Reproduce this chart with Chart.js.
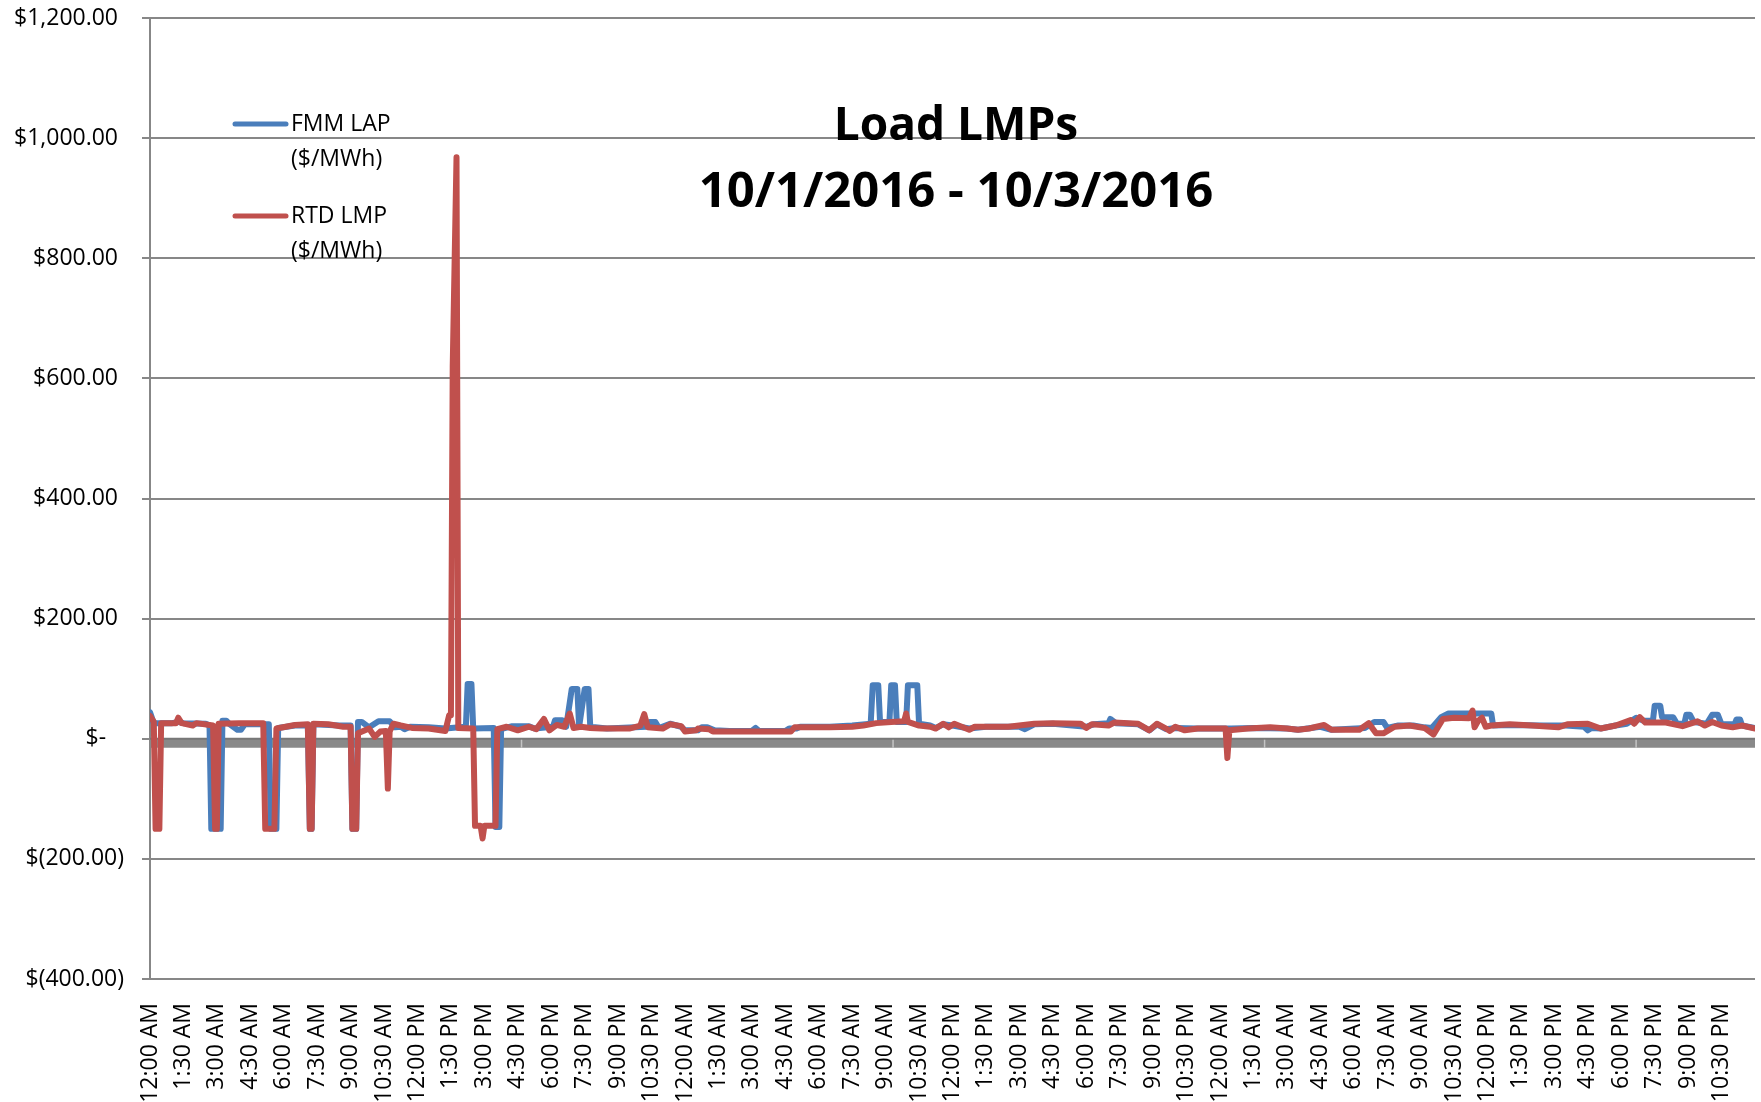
<!DOCTYPE html>
<html>
<head>
<meta charset="utf-8">
<title>Load LMPs</title>
<script src="https://cdn.jsdelivr.net/npm/chart.js@4.4.0/dist/chart.umd.min.js"></script>
<style>
  html, body { margin: 0; padding: 0; background: #fff; }
  #wrap { width: 1761px; height: 1102px; }
</style>
</head>
<body>
<div id="wrap"><canvas id="lmpChart" width="1761" height="1102"></canvas></div>
<script>
// 時刻ラベル（1.5時間ごと、3日分）
const xTickLabels = [
  "12:00 AM", "1:30 AM", "3:00 AM", "4:30 AM", "6:00 AM", "7:30 AM", "9:00 AM", "10:30 AM",
  "12:00 PM", "1:30 PM", "3:00 PM", "4:30 PM", "6:00 PM", "7:30 PM", "9:00 PM", "10:30 PM",
  "12:00 AM", "1:30 AM", "3:00 AM", "4:30 AM", "6:00 AM", "7:30 AM", "9:00 AM", "10:30 AM",
  "12:00 PM", "1:30 PM", "3:00 PM", "4:30 PM", "6:00 PM", "7:30 PM", "9:00 PM", "10:30 PM",
  "12:00 AM", "1:30 AM", "3:00 AM", "4:30 AM", "6:00 AM", "7:30 AM", "9:00 AM", "10:30 AM",
  "12:00 PM", "1:30 PM", "3:00 PM", "4:30 PM", "6:00 PM", "7:30 PM", "9:00 PM", "10:30 PM"
];
const yTickValues = [1200, 1000, 800, 600, 400, 200, 0, -200, -400];
const yTickLabels = ["$1,200.00 ", "$1,000.00 ", "$800.00 ", "$600.00 ", "$400.00 ", "$200.00 ", "$-   ", "$(200.00)", "$(400.00)"];

// FMM LAP ($/MWh) : 経過時間(h) と価格
const fmmHours = [
  0.00, 0.17, 1.00, 1.25, 1.50, 2.50, 2.67, 2.75, 3.17, 3.25, 3.42, 3.58, 3.92, 4.08, 4.25, 5.33,
  5.42, 5.67, 5.75, 6.50, 7.08, 7.17, 7.25, 7.33, 8.50, 9.00, 9.08, 9.25, 9.33, 9.50, 9.83, 10.25,
  10.75, 11.00, 11.25, 11.42, 11.67, 12.50, 13.25, 13.50, 14.17, 14.25, 14.42, 14.50, 15.42, 15.50,
  15.67, 15.75, 16.25, 17.00, 17.25, 18.08, 18.17, 18.50, 18.67, 18.92, 19.17, 19.25, 19.50, 19.67,
  19.75, 20.50, 22.25, 22.42, 22.67, 22.83, 23.33, 23.83, 24.00, 24.58, 24.75, 25.00, 25.33, 26.00,
  27.00, 27.17, 27.33, 28.50, 28.67, 29.00, 29.17, 30.50, 31.50, 32.33, 32.42, 32.67, 32.75, 33.17,
  33.25, 33.42, 33.50, 33.92, 34.00, 34.42, 34.50, 35.00, 35.25, 35.58, 36.00, 36.75, 37.50, 39.00,
  39.25, 39.67, 40.50, 42.00, 42.33, 43.00, 43.08, 43.33, 44.33, 44.83, 45.17, 45.58, 46.00, 47.00,
  48.50, 49.50, 51.00, 51.50, 52.50, 53.00, 54.50, 54.92, 55.33, 55.50, 56.00, 56.67, 57.17, 57.50,
  57.92, 58.25, 60.17, 60.25, 61.00, 62.50, 63.50, 64.33, 64.50, 64.67, 65.08, 65.75, 66.25, 66.67,
  67.00, 67.42, 67.50, 67.75, 67.83, 68.33, 68.50, 68.83, 68.92, 69.08, 69.25, 69.83, 70.08, 70.33,
  70.50, 71.08, 71.17, 71.33, 71.42, 72.00
];
const fmmValues = [
  44, 26, 26, 28, 26, 25, 22, -150, -150, 30, 30, 24, 15, 15, 24, 24,
  -150, -150, 18, 22, 22, -150, -150, 24, 22, 22, -150, -150, 28, 28, 19, 29,
  29, 19, 20, 16, 20, 19, 17, 18, 20, 91, 91, 17, 18, -147,
  -147, 16, 21, 21, 17, 20, 31, 31, 20, 83, 83, 20, 83, 83,
  20, 17, 20, 28, 28, 18, 25, 20, 14, 14, 19, 19, 14, 13,
  13, 18, 13, 13, 17, 17, 20, 20, 22, 25, 89, 89, 28, 28,
  89, 89, 28, 28, 89, 89, 25, 22, 18, 24, 22, 17, 20, 20,
  16, 24, 25, 20, 24, 26, 33, 26, 24, 14, 24, 16, 18, 17,
  17, 18, 17, 15, 20, 15, 18, 28, 28, 18, 22, 22, 19, 18,
  36, 42, 42, 22, 23, 22, 22, 20, 14, 18, 17, 22, 25, 35,
  30, 30, 55, 55, 36, 36, 25, 25, 40, 40, 28, 25, 40, 40,
  24, 24, 32, 32, 22, 18
];

// RTD LMP ($/MWh)
const rtdHours = [
  0.00, 0.17, 0.25, 0.42, 0.50, 1.17, 1.27, 1.42, 1.92, 2.08, 2.83, 2.92, 3.00, 3.08, 4.00, 5.08,
  5.17, 5.58, 5.67, 6.50, 7.08, 7.17, 7.25, 7.33, 8.00, 8.67, 9.00, 9.08, 9.25, 9.33, 9.83, 10.08,
  10.33, 10.58, 10.67, 10.75, 10.92, 11.25, 11.75, 12.50, 13.25, 13.42, 13.50, 13.58, 13.75, 13.83,
  14.50, 14.58, 14.83, 14.92, 15.00, 15.50, 15.58, 16.00, 16.50, 17.00, 17.33, 17.67, 17.92, 18.25,
  18.58, 18.83, 19.00, 19.33, 19.75, 20.25, 21.50, 22.00, 22.17, 22.33, 23.00, 23.33, 23.83, 24.00,
  24.50, 24.58, 25.08, 25.25, 26.00, 28.75, 28.92, 30.50, 31.50, 32.00, 32.58, 33.25, 33.83, 33.92,
  34.00, 34.50, 35.00, 35.25, 35.58, 35.83, 36.08, 36.75, 37.00, 38.50, 39.67, 40.50, 41.75, 42.00,
  42.25, 43.00, 43.25, 44.33, 44.83, 45.17, 45.58, 45.75, 46.00, 46.42, 47.00, 48.25, 48.33, 48.42,
  49.25, 50.25, 51.00, 51.50, 52.00, 52.67, 53.00, 54.25, 54.67, 55.00, 55.33, 55.83, 56.50, 57.17,
  57.58, 58.00, 58.50, 59.17, 59.33, 59.42, 59.58, 59.75, 59.92, 60.17, 61.00, 62.00, 63.17, 63.58,
  64.50, 65.08, 65.75, 66.42, 66.58, 66.83, 67.08, 68.00, 68.75, 69.42, 69.75, 70.08, 70.50, 71.00,
  71.42, 72.00
];
const rtdValues = [
  38, 28, -150, -150, 26, 26, 35, 26, 22, 26, 22, -150, -150, 25, 26, 26,
  -150, -150, 17, 23, 24, -150, -150, 25, 24, 20, 20, -150, -150, 9, 17, 3,
  12, 13, -83, 12, 25, 22, 18, 17, 13, 39, 39, 620, 968, 18,
  17, -145, -145, -166, -145, -145, 16, 20, 14, 20, 16, 33, 14, 23,
  20, 42, 18, 20, 18, 17, 17, 22, 41, 19, 17, 24, 21, 12,
  14, 17, 16, 12, 12, 12, 19, 19, 20, 22, 26, 28, 29, 42,
  28, 22, 20, 17, 25, 19, 25, 15, 20, 20, 25, 26, 25, 18,
  24, 22, 27, 25, 14, 25, 17, 13, 20, 14, 17, 17, -32, 14,
  17, 19, 17, 15, 17, 23, 15, 15, 26, 9, 9, 20, 22, 18,
  7, 33, 35, 34, 47, 19, 30, 35, 20, 22, 24, 22, 19, 24,
  25, 17, 22, 31, 25, 36, 27, 27, 21, 29, 22, 28, 22, 19,
  22, 17
];

const toPoints = (hours, values) => hours.map((h, i) => ({ x: h, y: values[i] }));

const FONT = '"Open Sans", "DejaVu Sans", sans-serif';
const BLUE = "#4a7ebb";
const RED = "#c0504d";
const GRID = "#878787";

// ゼロ軸の太線と凡例・タイトル（グラフ内に重ねて描く）
const overlay = {
  id: "overlay",
  beforeDatasetsDraw(chart) {
    const { ctx, chartArea, scales } = chart;
    const y0 = scales.y.getPixelForValue(0);
    ctx.save();
    ctx.fillStyle = "#898989";
    ctx.fillRect(chartArea.left, y0, chartArea.right - chartArea.left, 9);
    ctx.strokeStyle = "#777";
    ctx.lineWidth = 2;
    ctx.beginPath();
    ctx.moveTo(chartArea.left, y0);
    ctx.lineTo(chartArea.right, y0);
    ctx.stroke();
    // 200区間ごとの目盛り
    const step = 200 * 5 / 60;
    ctx.strokeStyle = "#c4c4c4";
    ctx.lineWidth = 1.5;
    for (let h = step; h < 72; h += step) {
      const x = scales.x.getPixelForValue(h);
      ctx.beginPath();
      ctx.moveTo(x, y0 + 1);
      ctx.lineTo(x, y0 + 9);
      ctx.stroke();
    }
    ctx.restore();
  },
  afterDraw(chart) {
    const { ctx } = chart;
    ctx.save();
    // 凡例
    const items = [
      { color: BLUE, lines: ["FMM LAP", "($/MWh)"], y: 124 },
      { color: RED, lines: ["RTD LMP", "($/MWh)"], y: 216 }
    ];
    ctx.font = "23px " + FONT;
    ctx.textBaseline = "middle";
    ctx.textAlign = "left";
    items.forEach((it) => {
      ctx.strokeStyle = it.color;
      ctx.lineWidth = 5;
      ctx.lineCap = "round";
      ctx.beginPath();
      ctx.moveTo(235, it.y);
      ctx.lineTo(286, it.y);
      ctx.stroke();
      ctx.fillStyle = "#000";
      ctx.fillText(it.lines[0], 291, it.y);
      ctx.fillText(it.lines[1], 291, it.y + 35);
    });
    // タイトル
    ctx.textAlign = "center";
    ctx.font = "bold 46px " + FONT;
    ctx.fillText("Load LMPs", 956, 127);
    ctx.font = "bold 49px " + FONT;
    ctx.fillText("10/1/2016 - 10/3/2016", 956, 193);
    ctx.restore();
  }
};

new Chart(document.getElementById("lmpChart").getContext("2d"), {
  type: "line",
  data: {
    datasets: [
      {
        label: "FMM LAP ($/MWh)",
        data: toPoints(fmmHours, fmmValues),
        borderColor: BLUE,
        borderWidth: 6,
        order: 2
      },
      {
        label: "RTD LMP ($/MWh)",
        data: toPoints(rtdHours, rtdValues),
        borderColor: RED,
        borderWidth: 6,
        order: 1
      }
    ]
  },
  options: {
    responsive: false,
    devicePixelRatio: 1,
    animation: false,
    layout: { padding: { top: 18, right: 6, left: 0, bottom: 0 } },
    elements: {
      point: { radius: 0 },
      line: { tension: 0, borderCapStyle: "round", borderJoinStyle: "round" }
    },
    scales: {
      x: {
        type: "linear",
        min: 0,
        max: 72,
        afterBuildTicks: (scale) => {
          scale.ticks = xTickLabels.map((_, i) => ({ value: i * 1.5 }));
        },
        afterFit: (scale) => {
          scale.height = 123;
          scale.paddingLeft = 0;
          scale.paddingRight = 0;
        },
        grid: { display: false },
        border: { display: false },
        ticks: {
          autoSkip: false,
          minRotation: 90,
          maxRotation: 90,
          padding: 16,
          color: "#000",
          font: { family: FONT, size: 23 },
          callback: (v, i) => xTickLabels[i]
        }
      },
      y: {
        min: -400,
        max: 1200,
        afterBuildTicks: (scale) => {
          scale.ticks = yTickValues.map((v) => ({ value: v }));
        },
        afterFit: (scale) => {
          scale.width = 150;
          scale.paddingTop = 0;
          scale.paddingBottom = 0;
        },
        grid: { color: GRID, lineWidth: 2, tickLength: 8 },
        border: { display: true, color: GRID, width: 2 },
        ticks: {
          padding: 18,
          color: "#000",
          font: { family: FONT, size: 23 },
          callback: (v) => yTickLabels[yTickValues.indexOf(v)]
        }
      }
    },
    plugins: {
      legend: { display: false },
      tooltip: { enabled: false }
    }
  },
  plugins: [overlay]
});
</script>
</body>
</html>
